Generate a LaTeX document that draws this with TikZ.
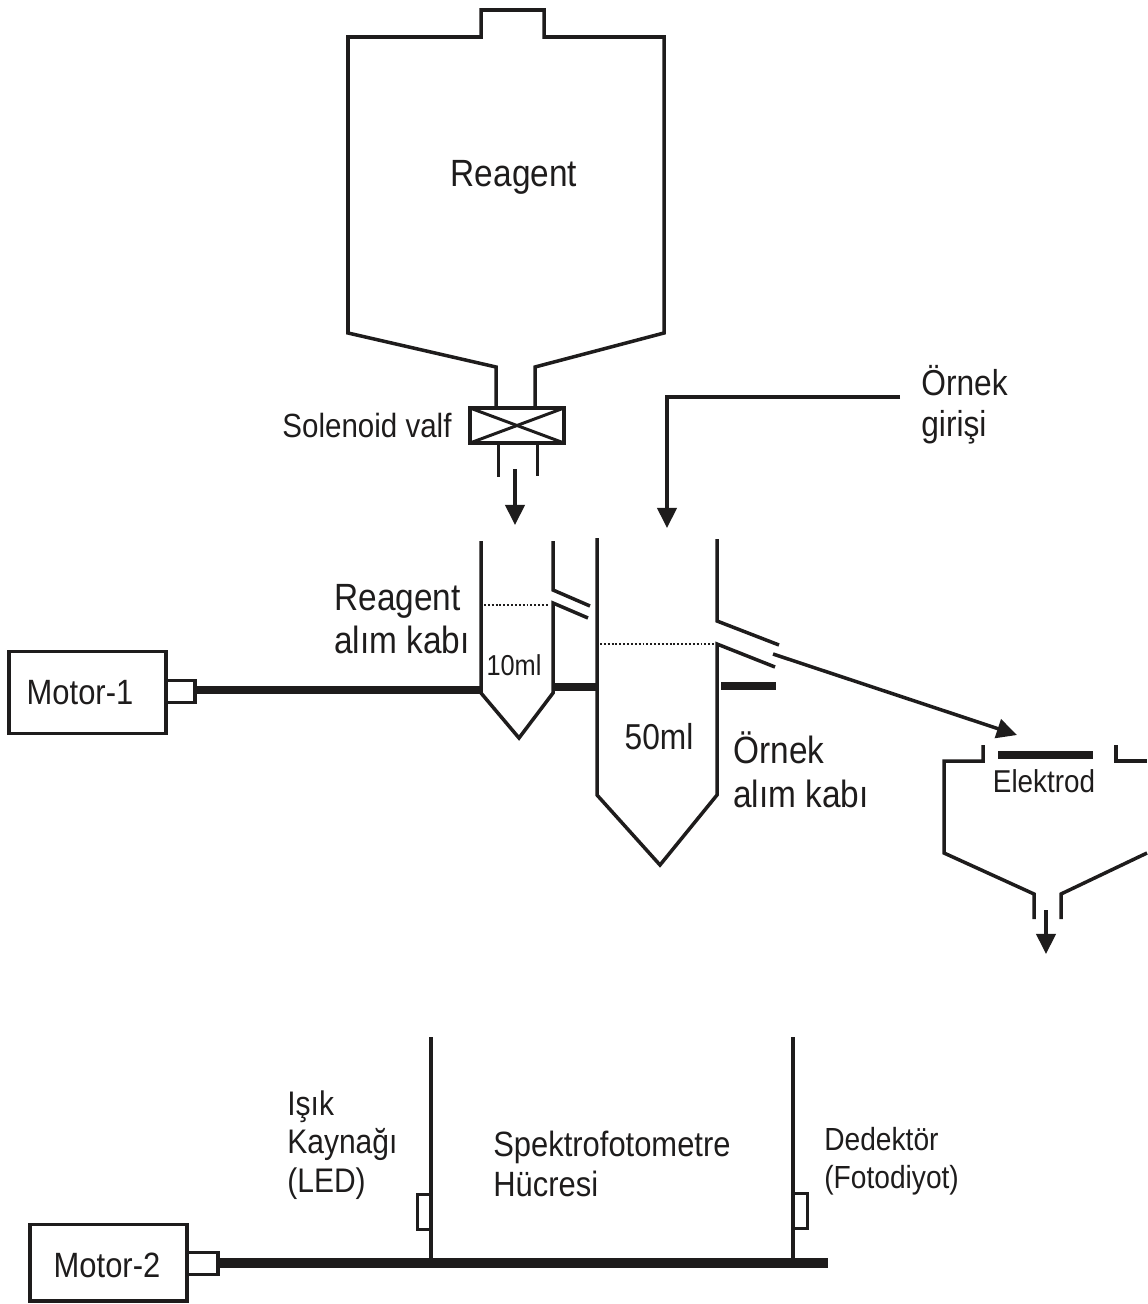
\documentclass[tikz,border=0pt]{standalone}
\usepackage{fontspec}
\setmainfont[FakeStretch=0.88]{Liberation Sans}
\usetikzlibrary{arrows.meta, positioning}
\definecolor{inkblack}{RGB}{30,28,28}
\tikzset{
  wall/.style={line width=2pt, color=inkblack, line join=miter},
  thinwall/.style={line width=1.7pt, color=inkblack},
  shaft/.style={line width=4.6pt, color=inkblack},
  level/.style={line width=1.6pt, color=inkblack, dash pattern=on 1.1pt off 1.1pt},
  flow/.style={-{Triangle[length=11.5pt, width=11pt]}, line width=2pt, color=inkblack},
  motorbox/.style={rectangle, draw=inkblack, line width=2pt, minimum width=89.3pt, outer sep=0pt, inner sep=0pt, anchor=north west},
  couplerbox/.style={rectangle, draw=inkblack, line width=2.2pt, minimum height=12.5pt, outer sep=0pt, inner sep=0pt, anchor=west},
  txt/.style={text=inkblack, inner sep=0pt, align=left},
}
\newcommand{\fs}[2]{\fontsize{#1}{#2}\selectfont}
\begin{document}
\begin{tikzpicture}[x=0.02cm, y=-0.02cm]
  \useasboundingbox (0,0) rectangle (1147,1304);
  % reagent tank and valve
  \draw[wall] (496,408) -- (496,367) -- (348,333) -- (348,37) -- (481,37) -- (481,10) -- (544,10) -- (544,37) -- (664,37) -- (664,333) -- (535,367) -- (535,408);
  \node[txt, font=\fs{21.6}{26}] (reagent) at (514,177) {Reagent};
  \draw[wall, line width=2.2pt] (470,408) rectangle (564,443);
  \draw[thinwall] (470,408) -- (564,443);
  \draw[thinwall] (470,443) -- (564,408);
  \draw[thinwall] (498,443) -- (498,477);
  \draw[thinwall] (537,443) -- (537,476);
  \node[txt, font=\fs{19.1}{23}] (solenoid) at (367,426) {Solenoid valf};
  \coordinate (reagentout) at (515,469);
  \coordinate (reagentin) at (515,525);
  \draw[flow] (reagentout) -- (reagentin);
  % sample inlet
  \node[txt, font=\fs{20.5}{23.3}, anchor=west] (inlet) at (921,404.5) {Örnek\\girişi};
  \coordinate (inletfrom) at (900,397);
  \coordinate (inletto) at (667,528);
  \draw[flow] (inletfrom) -| (inletto);
  % reagent cup
  \draw[wall] (481,541) -- (481,693) -- (519,738) -- (553,693) -- (553,603) -- (588,618);
  \draw[wall] (553,541) -- (553,590) -- (590,606);
  \draw[level] (484,605) -- (548,605);
  \node[txt, font=\fs{16.4}{19}] (tenml) at (514,665) {10ml};
  \node[txt, font=\fs{21.6}{24.5}, anchor=west] (reagentcup) at (334,619) {Reagent\\alım kabı};
  % sample cup
  \draw[wall] (597,538) -- (597,795) -- (660,865) -- (717,795) -- (717,644) -- (775,667);
  \draw[wall] (717,539) -- (717,621) -- (779,645);
  \draw[level] (600,644) -- (715,644);
  \node[txt, font=\fs{20.5}{24}] (fiftyml) at (659,737) {50ml};
  \node[txt, font=\fs{21.6}{25}, anchor=west] (samplecup) at (733,770) {Örnek\\alım kabı};
  \draw[shaft] (721,686) -- (776,686);
  % motor 1
  \node[motorbox, minimum height=46.7pt] (motora) at (9,651.5) {};
  \node[txt, font=\fs{20}{24}] at (80,693) (motoratxt) {Motor-1};
  \node[couplerbox, minimum width=16.8pt] (couplera) at (motora.east |- 0,691.5) {};
  \coordinate (shaftaend) at (481,690);
  \draw[shaft] (couplera.east |- shaftaend) -- (shaftaend);
  \draw[shaft] (553,687) -- (597,687);
  % electrode cell
  \draw[wall] (983,745) -- (983,761) -- (944,761) -- (944,853) -- (1034,894) -- (1034,919);
  \draw[wall] (1116,745) -- (1116,761) -- (1147,761);
  \draw[wall] (1147,853) -- (1061,894) -- (1061,919);
  \draw[shaft] (998,755) -- (1093,755);
  \node[txt, font=\fs{18}{21}] (elektrod) at (1044,781) {Elektrod};
  \coordinate (cupout) at (773,654);
  \coordinate (cellin) at (1017,735);
  \draw[flow] (cupout) -- (cellin);
  \coordinate (cellout) at (1046,910);
  \coordinate (drain) at (1046,954);
  \draw[flow] (cellout) -- (drain);
  % spectrophotometer
  \draw[wall] (431,1037) -- (431,1263);
  \draw[wall] (793,1037) -- (793,1263);
  \draw[thinwall] (431,1194) -- (417,1194) -- (417,1229) -- (431,1229);
  \draw[thinwall] (793,1193) -- (807,1193) -- (807,1228) -- (793,1228);
  \node[txt, font=\fs{19.4}{22}, anchor=west] (led) at (287,1145) {Işık\\Kaynağı\\(LED)};
  \node[txt, font=\fs{20}{22.7}, anchor=west] (cell) at (493,1164) {Spektrofotometre\\Hücresi};
  \node[txt, font=\fs{18.2}{21.6}, anchor=west] (detector) at (824,1161) {Dedektör\\(Fotodiyot)};
  % motor 2
  \node[motorbox, minimum height=43.5pt] (motorb) at (30,1224.5) {};
  \node[txt, font=\fs{20}{24}] (motorbtxt) at (107,1265) {Motor-2};
  \node[couplerbox, minimum width=17.7pt] (couplerb) at (motorb.east |- 0,1263.5) {};
  \coordinate (shaftend) at (828,1263);
  \draw[shaft, line width=5.4pt] (couplerb.east |- shaftend) -- (shaftend);
\end{tikzpicture}
\end{document}
